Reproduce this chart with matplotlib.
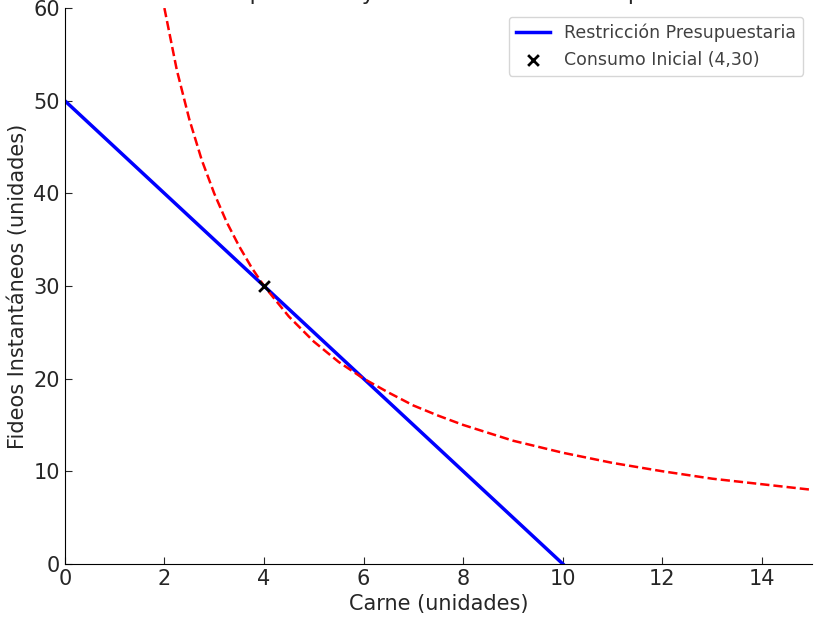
import matplotlib
matplotlib.use("Agg")
import matplotlib.pyplot as plt

# budget line endpoints
budget_x = [0, 10]
budget_y = [50, 0]

# indifference curve points
curve_x = [2.0, 2.25, 2.5, 2.75, 3.0, 3.25, 3.5, 3.75, 4.0, 4.5, 5.0, 5.5, 6.0, 6.5, 7.0, 7.5, 8.0, 9.0, 10.0, 11.0, 12.0, 13.0, 14.0, 15.0]
curve_y = [60.0, 53.3, 48.0, 43.6, 40.0, 36.9, 34.3, 32.0, 30.0, 26.7, 24.0, 21.8, 20.0, 18.5, 17.1, 16.0, 15.0, 13.3, 12.0, 10.9, 10.0, 9.2, 8.6, 8.0]

init_x = [4]
init_y = [30]

txt = "#262626"
plt.rcParams["font.size"] = 15
plt.rcParams["text.color"] = txt
plt.rcParams["axes.labelcolor"] = txt
plt.rcParams["xtick.color"] = txt
plt.rcParams["ytick.color"] = txt
fig = plt.figure(figsize=(8.2, 6.19), dpi=100)
ax = fig.add_axes([0.079, 0.089, 0.911, 0.898])

ax.plot(budget_x, budget_y, color="blue", lw=2.5, label="Restricción Presupuestaria")
ax.plot(curve_x, curve_y, color="red", lw=1.8, ls="--")
ax.scatter(init_x, init_y, color="black", marker="x", s=60, linewidths=2, zorder=5, label="Consumo Inicial (4,30)")

ax.set_xlim(0, 15)
ax.set_ylim(0, 60)
ax.set_xticks(range(0, 16, 2))
ax.set_yticks(range(0, 61, 10))
ax.tick_params(direction="in", length=5, labelsize=15)
ax.spines["top"].set_visible(False)
ax.spines["right"].set_visible(False)
ax.set_xlabel("Carne (unidades)", fontsize=15)
ax.set_ylabel("Fideos Instantáneos (unidades)", fontsize=15)
leg = ax.legend(loc="upper right", fontsize=12.5)
for t in leg.get_texts():
    t.set_color("#404040")
# title sits above the canvas like in the reference, only descenders visible
fig.text(0.534, 0.993, "Restricción Presupuestaria y Curva de Indiferencia para el Consumo", ha="center", va="bottom", fontsize=16)

fig.savefig("out.png", dpi=100)
